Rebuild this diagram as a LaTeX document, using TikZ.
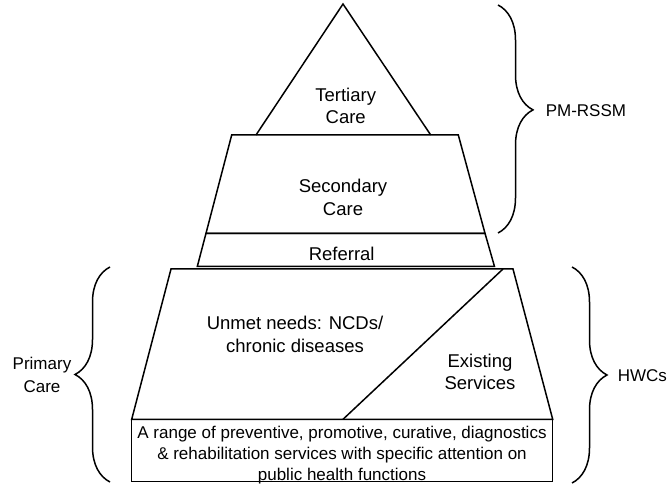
\documentclass[tikz,border=0pt]{standalone}
\usepackage{fontspec}
\setmainfont{Liberation Sans}
\usetikzlibrary{decorations.pathreplacing}
\begin{document}
\begin{tikzpicture}[x=1pt,y=-1pt, line width=1.5pt, line join=miter,
  lbl/.style={font=\fontsize{18.5}{22.5}\selectfont, align=center, inner sep=0pt},
  small/.style={font=\fontsize{17}{21}\selectfont, align=center, inner sep=0pt},
  side/.style={font=\fontsize{17}{22.5}\selectfont, align=center, inner sep=0pt},
  brc/.style={decorate, decoration={brace, amplitude=35pt, aspect=#1}},
  brc/.default=0.5]
\useasboundingbox (0,0) rectangle (667,486);
% tertiary triangle
\draw (256,135) -- (343,4) -- (430.7,135);
% secondary trapezoid
\draw (231.7,135) -- (458.3,135) -- (485,233.3) -- (206,233.3) -- cycle;
% referral band
\draw (206,233.3) -- (485,233.3) -- (494.5,266.5) -- (197.3,266.5) -- cycle;
% primary trapezoid
\draw (171,269) -- (513,269) -- (552.7,419.3) -- (131.7,419.3) -- cycle;
\draw (503,269) -- (343,419.3);
% bottom box
\draw (131.7,419.3) rectangle (552.7,481.7);
% texts
\node[lbl] (tert) at (345.7,106) {Tertiary\\Care};
\node[lbl] (sec) at (343,197.5) {Secondary\\Care};
\node[lbl] (ref) at (341.7,253.5) {Referral};
\node[lbl] (unmet) at (295,334.5) {Unmet needs: NCDs/\\chronic diseases};
\node[lbl] (exist) at (480,372) {Existing\\Services};
\node[small] (range) at (342,455) {A range of preventive, promotive, curative, diagnostics\\\& rehabilitation services with specific attention on\\public health functions};
% braces
\coordinate (b1s) at (498,5);
\coordinate (b1e) at (498,233);
\draw[brc=0.46] (b1s) -- (b1e);
\node[side, anchor=west] (pm) at (545,111) {PM-RSSM};
\coordinate (b2s) at (572,267);
\coordinate (b2e) at (572,483);
\draw[brc=0.5] (b2s) -- (b2e);
\node[side, anchor=west] (hwc) at (617,376) {HWCs};
\coordinate (b3s) at (110,482);
\coordinate (b3e) at (110,267);
\draw[brc=0.5] (b3s) -- (b3e);
\node[side] (pc) at (42,375) {Primary\\Care};
\end{tikzpicture}
\end{document}
